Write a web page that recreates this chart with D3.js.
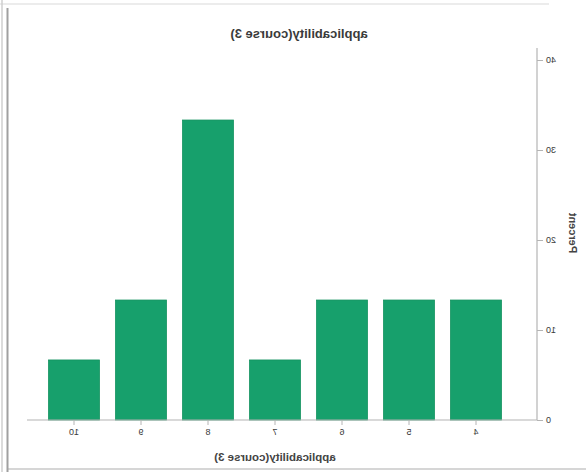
<!DOCTYPE html>
<html>
<head>
<meta charset="utf-8">
<script src="https://cdn.jsdelivr.net/npm/d3@7"></script>
<style>
  html, body { margin: 0; padding: 0; background: #fff; }
  svg { display: block; }
</style>
</head>
<body>
<svg id="chart" width="586" height="472"></svg>
<script>
// Data (SPSS frequency bar chart; reference image is horizontally mirrored)
const categories = ["4", "5", "6", "7", "8", "9", "10"];
const percents = [13.33, 13.33, 13.33, 6.67, 33.33, 13.33, 6.67];
const yTicks = [0, 10, 20, 30, 40];
const titleText = "applicability(course 3)";
const xLabelText = "applicability(course 3)";
const yLabelText = "Percent";

const W = 586, H = 472;
const svg = d3.select("#chart");
svg.append("rect").attr("width", W).attr("height", H).attr("fill", "#fff");

// whole drawing mirrored horizontally to match reference
const g = svg.append("g").attr("transform", `translate(${W},0) scale(-1,1)`);

const font = "'Liberation Sans', Arial, sans-serif";
const axisColor = "#b4b4b4";
const textColor = "#3a3a3a";

// frame
g.append("line").attr("x1", 37).attr("x2", 586).attr("y1", 4).attr("y2", 4)
  .attr("stroke", "#e6e6e6").attr("stroke-width", 1.5);
g.append("line").attr("x1", 0).attr("x2", 578).attr("y1", 469).attr("y2", 469)
  .attr("stroke", "#c8c8c8").attr("stroke-width", 1.5);
g.append("line").attr("x1", 578.5).attr("x2", 578.5).attr("y1", 8).attr("y2", 472)
  .attr("stroke", "#a0a0a0").attr("stroke-width", 2);
g.append("line").attr("x1", 584).attr("x2", 584).attr("y1", 0).attr("y2", 472)
  .attr("stroke", "#cfcfcf").attr("stroke-width", 1.5);

const x = d3.scaleBand().domain(categories).range([76.5, 545.5])
  .paddingInner(0.24).paddingOuter(0.12);
const y = d3.scaleLinear().domain([0, 40]).range([420, 60]);

// bars
g.selectAll("rect.bar").data(categories).enter().append("rect")
  .attr("class", "bar")
  .attr("x", d => x(d))
  .attr("width", x.bandwidth())
  .attr("y", (d, i) => y(percents[i]))
  .attr("height", (d, i) => y(0) - y(percents[i]))
  .attr("fill", "#17a06c")
  .attr("stroke", "#13925f").attr("stroke-width", 0.8);

// x axis
g.append("line").attr("x1", 49).attr("x2", 559).attr("y1", y(0)).attr("y2", y(0))
  .attr("stroke", axisColor).attr("stroke-width", 1.2);
const xAxis = g.append("g").attr("transform", `translate(0,${y(0)})`)
  .call(d3.axisBottom(x).tickSize(5).tickPadding(4).tickSizeOuter(0));
xAxis.select(".domain").remove();
xAxis.selectAll(".tick line").attr("stroke", axisColor);
xAxis.selectAll(".tick text").attr("fill", textColor)
  .attr("font-family", font).attr("font-size", 9);

// y axis
g.append("line").attr("x1", 49).attr("x2", 49).attr("y1", 48).attr("y2", y(0))
  .attr("stroke", axisColor).attr("stroke-width", 1.2);
const yAxis = g.append("g").attr("transform", "translate(49,0)")
  .call(d3.axisLeft(y).tickValues(yTicks).tickSize(6).tickPadding(3).tickSizeOuter(0));
yAxis.select(".domain").remove();
yAxis.selectAll(".tick line").attr("stroke", axisColor);
yAxis.selectAll(".tick text").attr("fill", textColor)
  .attr("font-family", font).attr("font-size", 9);

// labels
g.append("text").attr("x", 287).attr("y", 38).attr("text-anchor", "middle")
  .attr("font-family", font).attr("font-size", 13).attr("font-weight", "bold")
  .attr("fill", "#3a3a3a").text(titleText);
g.append("text").attr("x", 311).attr("y", 461).attr("text-anchor", "middle")
  .attr("font-family", font).attr("font-size", 11.5).attr("font-weight", "bold")
  .attr("fill", "#444").text(xLabelText);
g.append("text").attr("transform", "translate(17,233) rotate(-90)")
  .attr("text-anchor", "middle")
  .attr("font-family", font).attr("font-size", 11).attr("font-weight", "bold")
  .attr("fill", "#444").text(yLabelText);
</script>
</body>
</html>
